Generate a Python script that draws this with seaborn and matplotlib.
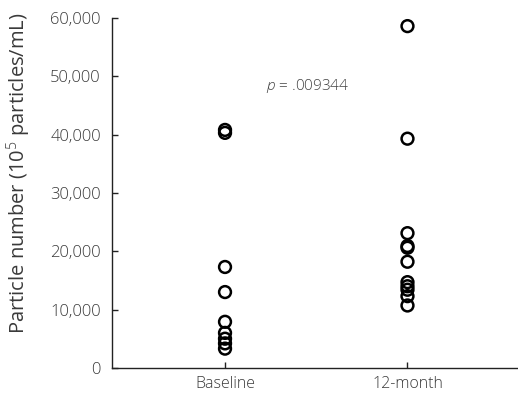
import pandas as pd
import matplotlib
matplotlib.use("Agg")
import matplotlib.pyplot as plt
import seaborn as sns

groups = ["Baseline", "12-month"]
baseline = [40800, 40300, 17300, 13000, 7900, 6000, 5000, 4200, 3300]
month12 = [58600, 39300, 23100, 20900, 20600, 18200, 14700, 14000, 13400, 12300, 10700]
p_text = " = .009344"

df = pd.DataFrame({
    "group": ["Baseline"] * len(baseline) + ["12-month"] * len(month12),
    "value": baseline + month12,
})

sns.set_style("white")
plt.rcParams["font.family"] = ["Open Sans", "DejaVu Sans"]
plt.rcParams["font.weight"] = "light"
plt.rcParams["mathtext.fontset"] = "custom"
plt.rcParams["mathtext.rm"] = "Open Sans:light"
plt.rcParams["mathtext.it"] = "Open Sans:italic:light"
txt = "#3a3a3a"

fig = plt.figure(figsize=(5.18, 3.99), dpi=100)
ax = fig.add_axes([0.216, 0.078, 0.782, 0.877])

sns.stripplot(data=df, x="group", y="value", order=groups, jitter=False,
              color="black", size=8.5, linewidth=1.8, edgecolor="black", ax=ax)
for c in ax.collections:
    c.set_facecolor("none")
    c.set_edgecolor("black")

ax.set_xlim(-0.62, 1.6)
ax.set_ylim(0, 60000)
ax.set_yticks(range(0, 60001, 10000))
ax.set_yticklabels([f"{v:,}" for v in range(0, 60001, 10000)])
ax.set_xlabel("")
ax.set_ylabel(r"Particle number (10$^{5}$ particles/mL)", fontsize=14.5, color=txt)
ax.yaxis.set_label_coords(-0.195, 0.557)

for s in ["top", "right"]:
    ax.spines[s].set_visible(False)
for s in ["left", "bottom"]:
    ax.spines[s].set_color("#222222")
    ax.spines[s].set_linewidth(1.0)

ax.tick_params(axis="both", direction="in", length=4, width=1, color="#222222",
               labelcolor=txt, left=True, bottom=True)
ax.tick_params(axis="y", pad=8, labelsize=12)
ax.tick_params(axis="x", pad=6, labelsize=11.5)

ax.text(0.45, 48300, "$p$" + p_text, ha="center", va="center", fontsize=11, color="#444444")

fig.savefig("out.png", dpi=100)
